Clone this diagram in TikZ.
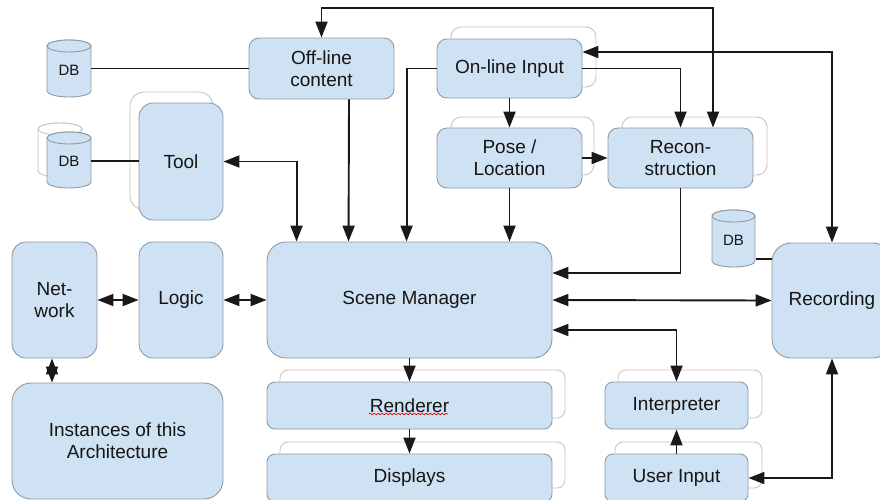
\documentclass[tikz,border=0pt]{standalone}
\usepackage{fontspec}
\setmainfont{Liberation Sans}
\usetikzlibrary{arrows.meta,decorations.pathmorphing}
\definecolor{boxfill}{HTML}{CFE2F3}
\definecolor{boxline}{HTML}{8E9BA6}
\definecolor{ghostline}{HTML}{C6C6C6}
\definecolor{ink}{HTML}{151515}

% database drum: x1 y1 x2 y2 style
\newcommand\dbdrum[5]{%
  \pgfmathsetmacro\drumrx{(#3-#1)/2}%
  \pgfmathsetmacro\drumcx{(#1+#3)/2}%
  \path[#5] (#1,#2+6) -- (#1,#4-6)
    arc[start angle=180,end angle=360,x radius=\drumrx pt,y radius=6pt]
    -- (#3,#2+6)
    arc[start angle=0,end angle=180,x radius=\drumrx pt,y radius=6pt] -- cycle;
  \path[#5] (\drumcx,#2+6) ellipse[x radius=\drumrx pt,y radius=6pt];
}

\begin{document}
\begin{tikzpicture}[x=1pt,y=-1pt,
  block/.style={draw=boxline, fill=boxfill, line width=0.9pt, inner sep=0pt,
    align=center, text=ink, font=\fontsize{19}{22}\selectfont},
  ghost/.style={draw=ghostline, fill=white, line width=0.9pt},
  drumfront/.style={draw=boxline, fill=boxfill, line width=0.9pt},
  drumback/.style={draw=ghostline, fill=white, line width=0.9pt},
  dblabel/.style={inner sep=0pt, minimum width=44pt, minimum height=57pt,
    text=ink, font=\fontsize{15}{18}\selectfont},
  wire/.style={line width=1.9pt, draw=black!90},
  >={Triangle[length=16pt,width=12pt]}
]
\clip (0,0) rectangle (880,499);
\fill[white] (0,0) rectangle (880,499);

% stacked copies behind the front boxes
\draw[ghost, rounded corners=10pt] (451,27) rectangle (596,87);
\draw[ghost, rounded corners=10pt] (451,117) rectangle (594,175);
\draw[ghost, rounded corners=10pt] (622,117) rectangle (767,175);
\draw[ghost, rounded corners=14pt] (130,92) rectangle (213,210);
\draw[ghost, rounded corners=8pt] (280,370) rectangle (565,418);
\draw[ghost, rounded corners=8pt] (280,442) rectangle (565,488);
\draw[ghost, rounded corners=8pt] (618,370) rectangle (762,418);
\draw[ghost, rounded corners=8pt] (615,442) rectangle (762,488);

% databases
\dbdrum{47}{40}{91}{97}{drumfront}
\dbdrum{38}{123}{82}{177}{drumback}
\dbdrum{47}{132}{91}{188}{drumfront}
\dbdrum{712}{210}{755}{267}{drumfront}
\node[dblabel] (db1) at (69,70) {DB};
\node[dblabel] (db2) at (69,161) {DB};
\node[dblabel] (db3) at (733.5,240) {DB};

% front boxes
\node[block, minimum width=145pt, minimum height=61pt, rounded corners=10pt] (off) at (321.5,68.5) {Off-line\\content};
\node[block, minimum width=145pt, minimum height=59pt, rounded corners=10pt] (onl) at (509.5,68.5) {On-line Input};
\node[block, minimum width=145pt, minimum height=60pt, rounded corners=10pt] (pose) at (509.5,158) {Pose /\\Location};
\node[block, minimum width=145pt, minimum height=60pt, rounded corners=10pt] (rec) at (680.5,158) {Recon-\\struction};
\node[block, minimum width=84pt, minimum height=117pt, rounded corners=14pt] (tool) at (181,161.5) {Tool};
\node[block, minimum width=85pt, minimum height=116pt, rounded corners=14pt] (net) at (54.5,300) {Net-\\work};
\node[block, minimum width=84pt, minimum height=116pt, rounded corners=14pt] (logic) at (181,300) {Logic};
\node[block, minimum width=285pt, minimum height=116pt, rounded corners=19pt] (sm) at (409.5,300) {Scene Manager};
\node[block, minimum width=120pt, minimum height=115pt, rounded corners=19pt] (recd) at (832,300.5) {Recording};
\node[block, minimum width=211pt, minimum height=116pt, rounded corners=19pt] (inst) at (117.5,441) {Instances of this\\Architecture};
\node[block, minimum width=285pt, minimum height=47pt, rounded corners=8pt] (rend) at (409.5,405.5) {Renderer};
\node[block, minimum width=285pt, minimum height=48pt, rounded corners=8pt] (disp) at (409.5,478) {Displays};
\node[block, minimum width=143pt, minimum height=47pt, rounded corners=8pt] (interp) at (676.5,405.5) {Interpreter};
\node[block, minimum width=143pt, minimum height=48pt, rounded corners=8pt] (uin) at (676.5,478) {User Input};

% spell-check squiggle under the renderer label
\draw[red!80!black, line width=0.6pt, decorate,
  decoration={snake, segment length=4pt, amplitude=0.8pt}]
  ([xshift=-40.5pt,yshift=-8.5pt]rend.center) -- ([xshift=38.5pt,yshift=-8.5pt]rend.center);

% plain links to the databases
\draw[wire] (db1.east |- off.west) -- (off.west);
\draw[wire] (db2.east) -- (db2.east -| tool.west);
\draw[wire] ([yshift=-19pt]db3.east) -- ([yshift=-19pt]db3.east -| recd.west);

% top loop between off-line content and reconstruction
\coordinate (loop) at (500,8);
\draw[wire, <->] (off.north) |- (loop) -| ([xshift=32.5pt]rec.north);

% on-line input connections
\draw[wire, <->] ([yshift=16.5pt]onl.east) -| (recd.north);
\draw[wire, ->] (onl.east) -| (rec.north);
\draw[wire, ->] (onl.west) -| ([xshift=140pt]sm.north west);
\draw[wire, ->] (onl.south) -- (pose.north);
\draw[wire, ->] (pose.east) -- (rec.west);
\draw[wire, ->] (pose.south) -- (pose.south |- sm.north);
\draw[wire, ->] (rec.south) |- ([yshift=27pt]sm.east);

% into the scene manager from the left column
\draw[wire, ->] ([xshift=27.5pt]off.south) -- ([xshift=82pt]sm.north west);
\draw[wire, <->] (tool.east) -| ([xshift=30pt]sm.north west);

% middle row
\draw[wire, <->] (net.east) -- (logic.west);
\draw[wire, <->] (logic.east) -- (sm.west);
\draw[wire, <->] ([xshift=-2.5pt]net.south) -- ([xshift=-2.5pt]net.south |- inst.north);
\draw[wire, <->] (sm.east) -- (recd.west);
\draw[wire, <->] ([yshift=-30pt]sm.east) -| (interp.north);

% output chain
\draw[wire, ->] (sm.south) -- (rend.north);
\draw[wire, ->] (rend.south) -- (disp.north);

% user input
\draw[wire, ->] (uin.north) -- (interp.south);
\draw[wire, <->] (uin.east) -| (recd.south);
\end{tikzpicture}
\end{document}
